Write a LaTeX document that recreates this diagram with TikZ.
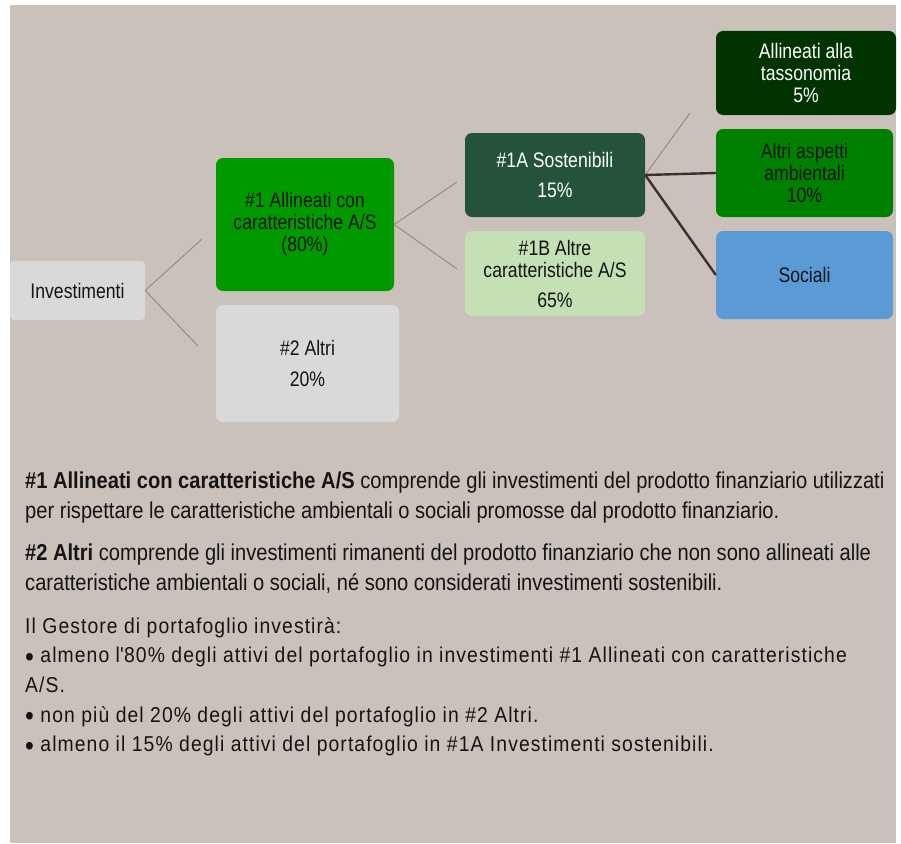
\documentclass[tikz,border=0pt]{standalone}
\usepackage{fontspec}
\setmainfont{Liberation Sans}[FakeStretch=0.874]
\newfontfamily\boxfont{Liberation Sans}[FakeStretch=0.84]
\newfontfamily\planfont{Liberation Sans}[FakeStretch=0.9, LetterSpace=5]

\definecolor{panel}{HTML}{CBC1BB}
\definecolor{greybox}{HTML}{D9D9D9}
\definecolor{leafgreen}{HTML}{009900}
\definecolor{darkgreen}{HTML}{245339}
\definecolor{palegreen}{HTML}{C5E0B4}
\definecolor{forest}{HTML}{003300}
\definecolor{midgreen}{HTML}{008000}
\definecolor{skyblue}{HTML}{5B9BD5}
\definecolor{twig}{HTML}{8C8078}
\definecolor{bark}{HTML}{3B2F2F}
\definecolor{ink}{HTML}{141414}

% bullet of the investment list
\newcommand\planbullet{\raisebox{-3.5pt}{\fontsize{28}{0}\selectfont\textbullet}}

\tikzset{
  box/.style={rounded corners=7pt, inner sep=0pt, align=center, text=ink,
    font=\boxfont\fontsize{21}{22}\selectfont},
  branch/.style={draw=twig, line width=0.8pt},
  stem/.style={draw=bark, line width=2.4pt},
  para/.style={anchor=north west, inner sep=0pt, align=left, text=ink,
    font=\fontsize{23}{29.6}\selectfont},
}

\begin{document}
\begin{tikzpicture}[x=1pt,y=-1pt]
  \useasboundingbox (0,0) rectangle (901,843);
  \fill[panel] (10,5) rectangle (896,843);

  \draw
    (77.5,290.5) node[box, fill=greybox, minimum width=135pt, minimum height=59pt, rounded corners=4pt] (inv){Investimenti}
    (305,224.5) node[box, fill=leafgreen, minimum width=178pt, minimum height=133pt] (all){\#1 Allineati con\\caratteristiche A/S\\(80\%)}
    (307.5,363.5) node[box, fill=greybox, minimum width=183pt, minimum height=117pt] (oth){\#2 Altri\\[9pt]20\%}
    (555,175) node[box, fill=darkgreen, text=white, minimum width=180pt, minimum height=84pt] (sus){\#1A Sostenibili\\[8pt]15\%}
    (555,273.5) node[box, fill=palegreen, minimum width=180pt, minimum height=85pt] (ces){\#1B Altre\\caratteristiche A/S\\[8pt]65\%}
    (806,73) node[box, fill=forest, text=white, minimum width=180pt, minimum height=84pt] (tax){Allineati alla\\tassonomia\\5\%}
    (804.5,173) node[box, fill=midgreen, minimum width=177pt, minimum height=88pt] (env){Altri aspetti\\ambientali\\10\%}
    (804.5,275) node[box, fill=skyblue, minimum width=177pt, minimum height=88pt] (soc){Sociali};

  % loose ends of the thin branches
  \coordinate (invup) at (202,239);
  \coordinate (invdn) at (198,346);
  \coordinate (allup) at (457,182);
  \coordinate (alldn) at (457,269);
  \coordinate (susup) at (690,113);

  \begin{scope}[-]
    \draw[branch] (inv.east) to (invup);
    \draw[branch] (inv.east) to (invdn);
    \draw[branch] (all.east) to (allup);
    \draw[branch] (all.east) to (alldn);
    \draw[branch] (sus.east) to (susup);
    \draw[stem] (sus.east) to (env.west);
    \draw[stem] (sus.east) to (soc.west);
  \end{scope}

  \node[para] (def1) at (25,472) {{\bfseries\#1 Allineati con caratteristiche A/S} comprende gli investimenti del prodotto finanziario utilizzati\\
    per rispettare le caratteristiche ambientali o sociali promosse dal prodotto finanziario.};
  \node[para] (def2) at (25,544) {{\bfseries\#2 Altri} comprende gli investimenti rimanenti del prodotto finanziario che non sono allineati alle\\
    caratteristiche ambientali o sociali, né sono considerati investimenti sostenibili.};
  \node[para, font=\planfont\fontsize{21.5}{29.7}\selectfont] (plan) at (25,617) {Il Gestore di portafoglio investirà:\\
    \planbullet{} almeno l\textquotesingle80\% degli attivi del portafoglio in investimenti \#1 Allineati con caratteristiche\\
    A/S.\\
    \planbullet{} non più del 20\% degli attivi del portafoglio in \#2 Altri.\\
    \planbullet{} almeno il 15\% degli attivi del portafoglio in \#1A Investimenti sostenibili.};
\end{tikzpicture}
\end{document}
